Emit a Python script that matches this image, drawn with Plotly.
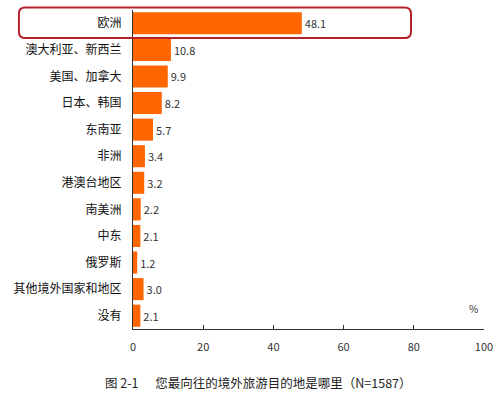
import plotly.graph_objects as go

# data
categories = ["欧洲", "澳大利亚、新西兰", "美国、加拿大", "日本、韩国", "东南亚", "非洲",
              "港澳台地区", "南美洲", "中东", "俄罗斯", "其他境外国家和地区", "没有"]
values = [48.1, 10.8, 9.9, 8.2, 5.7, 3.4, 3.2, 2.2, 2.1, 1.2, 3.0, 2.1]
x_ticks = [0, 20, 40, 60, 80, 100]

font_cn = "Noto Sans CJK SC"

fig = go.Figure()

fig.add_trace(go.Bar(
    y=categories, x=values, orientation="h",
    marker=dict(color="#FF6600", line=dict(width=0)),
    text=[f"{v:.1f}" for v in values], textposition="outside",
    textfont=dict(family=font_cn, size=11, color="#333333"),
    cliponaxis=False, showlegend=False,
))

# rounded highlight frame around the first row (paper coords)
x0, x1, y0, y1 = -0.325, 0.792, 0.912, 1.008
rx, ry = 0.018, 0.02
path = (f"M {x0+rx},{y0} L {x1-rx},{y0} Q {x1},{y0} {x1},{y0+ry} "
        f"L {x1},{y1-ry} Q {x1},{y1} {x1-rx},{y1} L {x0+rx},{y1} "
        f"Q {x0},{y1} {x0},{y1-ry} L {x0},{y0+ry} Q {x0},{y0} {x0+rx},{y0} Z")
fig.add_shape(type="path", path=path, xref="paper", yref="paper",
              line=dict(color="#B5202A", width=2))

fig.add_annotation(x=0.989, y=0.035, xref="paper", yref="paper", text="%",
                   showarrow=False, font=dict(family=font_cn, size=10, color="#333333"))
fig.add_annotation(x=0.358, y=-0.205, xref="paper", yref="paper",
                   text="图 2-1&nbsp;&nbsp;&nbsp;&nbsp;&nbsp;&nbsp;您最向往的境外旅游目的地是哪里（N=1587）",
                   showarrow=False, font=dict(family=font_cn, size=12.5, color="#222222"))

fig.update_layout(
    width=500, height=404,
    margin=dict(l=133, r=16, t=10, b=75),
    plot_bgcolor="white", paper_bgcolor="white",
    bargap=0.17,
    xaxis=dict(range=[0, 100], tickvals=x_ticks, ticks="inside", ticklen=4,
               tickcolor="#333333", showline=True, linecolor="#333333", linewidth=1,
               showgrid=False, zeroline=False, automargin=False,
               ticklabelstandoff=8,
               tickfont=dict(family=font_cn, size=11, color="#333333")),
    yaxis=dict(autorange="reversed", showline=True, linecolor="#333333", linewidth=1,
               showgrid=False, ticks="", ticklen=0, automargin=False,
               ticklabelstandoff=8,
               tickfont=dict(family=font_cn, size=12, color="#111111")),
)

fig.write_html("out.html", config={"displayModeBar": False},
               post_script="document.body.style.margin='0';")
